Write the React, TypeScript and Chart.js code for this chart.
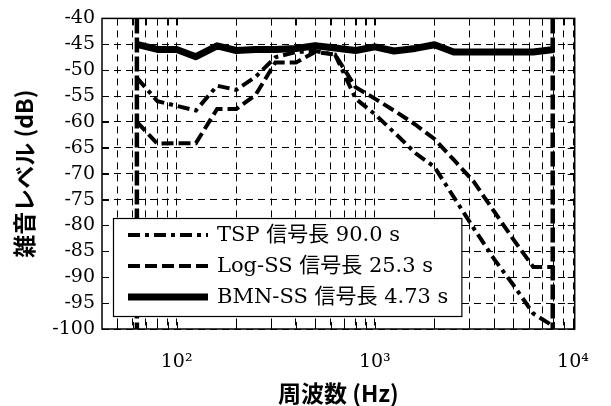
import { useEffect, useRef } from 'react';
import { Chart, registerables } from 'chart.js';

Chart.register(...registerables);

// 1/3-octave band centre frequencies (Hz)
const freqs = [63, 80, 100, 125, 160, 200, 250, 315, 400, 500, 630, 800, 1000, 1250, 1600, 2000, 2500, 3150, 4000, 5000, 6300, 8000];

// noise level (dB)
const tspValues = [-51.5, -56.0, -56.9, -57.8, -53.0, -53.8, -51.3, -47.5, -46.5, -46.3, -47.0, -55.5, -58.5, -62.0, -66.0, -68.7, -74.5, -80.5, -86.5, -91.5, -97.0, -99.5];
const logSsValues = [-60.0, -64.2, -64.1, -64.1, -57.5, -57.5, -54.8, -48.5, -48.5, -46.5, -47.0, -53.3, -55.5, -57.8, -60.5, -63.3, -67.3, -71.5, -77.3, -82.7, -88.0, -88.0];
const bmnSsValues = [-45.0, -46.0, -46.0, -47.4, -45.3, -46.2, -46.0, -46.0, -45.8, -45.3, -45.7, -46.2, -45.5, -46.3, -45.8, -45.1, -46.5, -46.5, -46.5, -46.5, -46.5, -46.0];

const seriesLabels = ['TSP 信号長 90.0 s', 'Log-SS 信号長 25.3 s', 'BMN-SS 信号長 4.73 s'];

// analysis band limits (Hz)
const bandLimits = [63, 7900];

// axes
const xMin = 42;
const xMax = 10200;
const yMin = -100;
const yMax = -40;
const yStep = 5;
const xGridTicks = [50, 60, 70, 80, 90, 100, 200, 300, 400, 500, 600, 700, 800, 900, 1000, 2000, 3000, 4000, 5000, 6000, 7000, 8000, 9000, 10000];
const decadeValues = [100, 1000, 10000];
const decadeLabels = ['10²', '10³', '10⁴'];

const xTitle = '周波数 (Hz)';
const yTitle = '雑音レベル (dB)';

const serifFont = '"DejaVu Serif", "Noto Sans CJK JP", serif';
const sansFont = '"Noto Sans CJK JP", "Noto Sans", sans-serif';

const framePlugin = {
  id: 'frameAndLegend',
  afterDraw(chart: any) {
    const { ctx, chartArea: ca } = chart;
    ctx.save();
    // inward tick marks
    ctx.strokeStyle = '#000';
    ctx.lineWidth = 1;
    ctx.setLineDash([]);
    const tl = 7;
    const xs = chart.scales.x;
    const ys = chart.scales.y;
    ctx.beginPath();
    xs.ticks.forEach((t: any) => {
      const px = Math.round(xs.getPixelForValue(t.value)) + 0.5;
      ctx.moveTo(px, ca.bottom);
      ctx.lineTo(px, ca.bottom - tl);
      ctx.moveTo(px, ca.top);
      ctx.lineTo(px, ca.top + tl);
    });
    ys.ticks.forEach((t: any) => {
      const py = Math.round(ys.getPixelForValue(t.value)) + 0.5;
      ctx.moveTo(ca.left, py);
      ctx.lineTo(ca.left + tl, py);
      ctx.moveTo(ca.right, py);
      ctx.lineTo(ca.right - tl, py);
    });
    ctx.stroke();
    // frame
    ctx.lineWidth = 1.5;
    ctx.strokeRect(ca.left, ca.top, ca.right - ca.left, ca.bottom - ca.top);

    // legend
    const items = chart.data.datasets.filter((d: any) => d.label);
    ctx.font = '21px ' + serifFont;
    const textW = Math.max(...items.map((d: any) => ctx.measureText(d.label).width));
    const left = ca.left + 11;
    const sampleLeft = left + 15;
    const sampleLen = 80;
    const textLeft = sampleLeft + sampleLen + 9;
    const right = textLeft + textW + 13;
    const height = 98;
    const bottom = ca.bottom - 13;
    const top = bottom - height;
    ctx.fillStyle = '#fff';
    ctx.fillRect(left, top, right - left, height);
    ctx.lineWidth = 1.2;
    ctx.strokeStyle = '#000';
    ctx.strokeRect(left + 0.5, top + 0.5, right - left, height);
    items.forEach((d: any, i: number) => {
      const y = top + 17 + i * 31;
      ctx.beginPath();
      ctx.setLineDash(d.borderDash || []);
      ctx.lineWidth = d.borderWidth;
      ctx.lineCap = 'butt';
      ctx.moveTo(sampleLeft, y);
      ctx.lineTo(sampleLeft + sampleLen, y);
      ctx.stroke();
      ctx.setLineDash([]);
      ctx.fillStyle = '#000';
      ctx.textBaseline = 'middle';
      ctx.textAlign = 'left';
      ctx.fillText(d.label, textLeft, y + 1);
    });
    ctx.restore();
  },
};

export default function App() {
  const ref = useRef<HTMLCanvasElement | null>(null);

  useEffect(() => {
    document.body.style.margin = '0';
    const canvas = ref.current;
    if (!canvas) return;
    const toPts = (vals: number[]) => freqs.map((f, i) => ({ x: f, y: vals[i] }));
    const lineBase = {
      borderColor: '#000',
      backgroundColor: '#000',
      pointRadius: 0,
      fill: false,
      tension: 0,
      borderCapStyle: 'butt' as const,
      borderJoinStyle: 'miter' as const,
    };
    const chart = new Chart(canvas, {
      type: 'line',
      data: {
        datasets: [
          { ...lineBase, label: seriesLabels[0], data: toPts(tspValues), borderWidth: 4, borderDash: [12, 5, 4, 5] },
          { ...lineBase, label: seriesLabels[1], data: toPts(logSsValues), borderWidth: 4, borderDash: [12, 5] },
          { ...lineBase, label: seriesLabels[2], data: toPts(bmnSsValues), borderWidth: 7, borderJoinStyle: 'round' as const },
          ...bandLimits.map((b) => ({
            ...lineBase,
            label: '',
            data: [{ x: b, y: yMax }, { x: b, y: yMin }],
            borderWidth: 4.5,
            borderDash: [15, 4],
          })),
        ],
      },
      options: {
        animation: false,
        responsive: false,
        maintainAspectRatio: false,
        layout: { padding: { top: 18, right: 24, left: 0, bottom: 0 } },
        plugins: { legend: { display: false }, tooltip: { enabled: false } },
        scales: {
          x: {
            type: 'logarithmic',
            min: xMin,
            max: xMax,
            afterBuildTicks: (s: any) => {
              s.ticks = xGridTicks.map((v) => ({ value: v }));
            },
            afterFit: (s: any) => {
              s.height = 77;
            },
            grid: { color: '#000', lineWidth: 1, drawTicks: false },
            border: { display: false, dash: [7, 5] },
            ticks: {
              autoSkip: false,
              maxRotation: 0,
              padding: 22,
              color: '#000',
              font: { family: serifFont, size: 19 },
              callback: (v: any) => {
                const i = decadeValues.indexOf(Number(v));
                return i >= 0 ? decadeLabels[i] : '';
              },
            },
            title: {
              display: true,
              text: xTitle,
              color: '#000',
              font: { family: sansFont, size: 23, weight: 'bold', lineHeight: 1.1 },
              padding: 0,
            },
          },
          y: {
            min: yMin,
            max: yMax,
            afterFit: (s: any) => {
              s.width = 102;
            },
            grid: { color: '#000', lineWidth: 1, drawTicks: false },
            border: { display: false, dash: [7, 5] },
            ticks: {
              stepSize: yStep,
              padding: 7,
              color: '#000',
              font: { family: serifFont, size: 19 },
            },
            title: {
              display: true,
              text: yTitle,
              color: '#000',
              font: { family: sansFont, size: 23, weight: 'bold', lineHeight: 1.2 },
              padding: { top: 10, bottom: 0 },
            },
          },
        },
      },
      plugins: [framePlugin],
    } as any);
    return () => chart.destroy();
  }, []);

  return (
    <div style={{ width: 611, height: 406 }}>
      <canvas ref={ref} width={611} height={406} style={{ display: 'block' }} />
    </div>
  );
}
